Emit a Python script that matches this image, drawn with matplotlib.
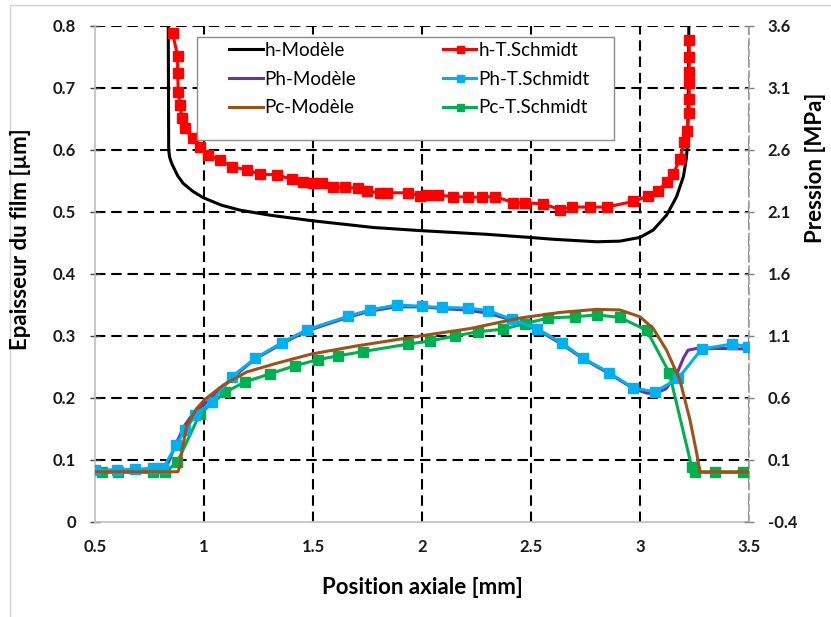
import matplotlib
matplotlib.use("Agg")
import matplotlib.pyplot as plt
from matplotlib.lines import Line2D
from matplotlib.patches import Rectangle
from matplotlib.ticker import FixedLocator, FuncFormatter
import numpy as np

plt.rcParams['font.family'] = ['Lato', 'DejaVu Sans']

# ---------------- data ----------------
# film thickness (left axis, µm)
x_h_model = [0.836, 0.837, 0.838, 0.842, 0.850, 0.859, 0.880, 0.905, 0.950, 0.997, 1.080, 1.165,
             1.300, 1.494, 1.777, 1.991, 2.297, 2.495, 2.602, 2.801, 2.908, 3.000, 3.061, 3.122,
             3.153, 3.168, 3.199, 3.212, 3.218, 3.222, 3.224]
y_h_model = [0.800, 0.700, 0.600, 0.589, 0.580, 0.573, 0.558, 0.546, 0.533, 0.523, 0.511, 0.503,
             0.495, 0.486, 0.475, 0.470, 0.464, 0.459, 0.456, 0.452, 0.453, 0.459, 0.471, 0.495,
             0.515, 0.525, 0.557, 0.585, 0.610, 0.700, 0.800]

x_h_schmidt = [0.856, 0.879, 0.879, 0.882, 0.890, 0.898, 0.913, 0.951, 0.982, 1.020, 1.073, 1.127,
               1.196, 1.257, 1.333, 1.402, 1.456, 1.501, 1.540, 1.593, 1.647, 1.708, 1.746, 1.807,
               1.838, 1.937, 1.991, 2.021, 2.075, 2.144, 2.212, 2.274, 2.335, 2.419, 2.472, 2.556,
               2.633, 2.687, 2.771, 2.847, 2.969, 3.038, 3.084, 3.122, 3.153, 3.183, 3.202, 3.214,
               3.225, 3.226, 3.226, 3.226, 3.226, 3.226]
y_h_schmidt = [0.788, 0.752, 0.724, 0.694, 0.673, 0.651, 0.635, 0.619, 0.605, 0.592, 0.584, 0.573,
               0.568, 0.561, 0.560, 0.553, 0.549, 0.547, 0.546, 0.541, 0.540, 0.538, 0.534, 0.531,
               0.531, 0.531, 0.526, 0.527, 0.527, 0.525, 0.524, 0.524, 0.525, 0.515, 0.515, 0.513,
               0.504, 0.508, 0.508, 0.508, 0.517, 0.526, 0.534, 0.549, 0.562, 0.585, 0.613, 0.630,
               0.659, 0.683, 0.708, 0.726, 0.750, 0.777]

# pressures (right axis, MPa)
x_ph_model = [0.50, 0.80, 0.83, 0.87, 0.91, 0.95, 1.00, 1.05, 1.13, 1.23, 1.36, 1.47, 1.66, 1.76,
              1.88, 2.00, 2.10, 2.20, 2.30, 2.41, 2.53, 2.64, 2.74, 2.86, 2.97, 3.03, 3.07, 3.12,
              3.17, 3.20, 3.22, 3.26, 3.35, 3.50]
p_ph_model = [0.015, 0.015, 0.05, 0.225, 0.375, 0.475, 0.55, 0.625, 0.76, 0.91, 1.04, 1.14, 1.25,
              1.30, 1.335, 1.335, 1.32, 1.31, 1.285, 1.23, 1.15, 1.035, 0.915, 0.795, 0.675, 0.64,
              0.635, 0.675, 0.80, 0.925, 0.985, 1.00, 1.00, 0.995]

x_ph_schmidt = [0.500, 0.600, 0.683, 0.767, 0.813, 0.872, 0.913, 0.960, 1.035, 1.127, 1.234, 1.356,
                1.471, 1.662, 1.761, 1.884, 1.998, 2.090, 2.212, 2.304, 2.411, 2.526, 2.641, 2.740,
                2.859, 2.969, 3.069, 3.176, 3.283, 3.421, 3.497]
p_ph_schmidt = [0.02, 0.02, 0.025, 0.033, 0.033, 0.22, 0.34, 0.46, 0.57, 0.77, 0.92, 1.045, 1.15,
                1.26, 1.31, 1.35, 1.34, 1.33, 1.325, 1.305, 1.235, 1.16, 1.045, 0.92, 0.805, 0.68,
                0.65, 0.76, 0.995, 1.035, 1.015]

x_pc_model = [0.50, 0.88, 0.89, 0.897, 0.92, 0.966, 1.005, 1.089, 1.196, 1.333, 1.494, 1.70, 1.991,
              2.22, 2.45, 2.633, 2.80, 2.908, 3.00, 3.061, 3.122, 3.183, 3.229, 3.26, 3.275, 3.50]
p_pc_model = [0.005, 0.005, 0.05, 0.155, 0.37, 0.515, 0.59, 0.705, 0.81, 0.88, 0.955, 1.02, 1.10,
              1.16, 1.245, 1.29, 1.315, 1.31, 1.255, 1.16, 0.985, 0.745, 0.425, 0.155, 0.005, 0.005]

x_pc_schmidt = [0.531, 0.607, 0.767, 0.821, 0.878, 0.982, 1.096, 1.188, 1.303, 1.417, 1.524, 1.616,
                1.731, 1.937, 2.037, 2.151, 2.258, 2.373, 2.472, 2.579, 2.702, 2.801, 2.908, 3.031,
                3.134, 3.237, 3.252, 3.344, 3.474]
p_pc_schmidt = [0.0, 0.0, 0.0, 0.0, 0.085, 0.475, 0.645, 0.73, 0.795, 0.86, 0.91, 0.94, 0.975,
                1.035, 1.06, 1.10, 1.135, 1.155, 1.20, 1.245, 1.255, 1.27, 1.25, 1.145, 0.805,
                0.045, 0.0, 0.0, 0.0]

x_ticks = [0.5, 1, 1.5, 2, 2.5, 3, 3.5]
y_left_ticks = [0, 0.1, 0.2, 0.3, 0.4, 0.5, 0.6, 0.7, 0.8]
y_right_ticks = [-0.4, 0.1, 0.6, 1.1, 1.6, 2.1, 2.6, 3.1, 3.6]

labels = ["h-Modèle", "Ph-Modèle", "Pc-Modèle", "h-T.Schmidt", "Ph-T.Schmidt", "Pc-T.Schmidt"]

# ---------------- figure ----------------
W, H = 831, 617
fig = plt.figure(figsize=(W / 100, H / 100), dpi=100)
fig.patch.set_facecolor('white')

def fx(px):
    return px / W

def fy(py):
    return 1 - py / H

L, R, T, B = 95, 749, 26, 522
ax = fig.add_axes([fx(L), fy(B), fx(R - L), (B - T) / H])
ax2 = ax.twinx()

C_RED = '#FF0000'
C_BLUE = '#00B0F0'
C_PURPLE = '#7030A0'
C_BROWN = '#9C5318'
C_GREEN = '#00B050'
LW = 2.2
MS = 7.2

l_hm, = ax.plot(x_h_model, y_h_model, color='black', lw=LW, zorder=3)
l_hs, = ax.plot(x_h_schmidt, y_h_schmidt, color=C_RED, lw=LW, marker='s', ms=MS, zorder=4)

l_phm, = ax2.plot(x_ph_model, p_ph_model, color=C_PURPLE, lw=LW, zorder=3)
l_phs, = ax2.plot(x_ph_schmidt, p_ph_schmidt, color=C_BLUE, lw=LW, marker='s', ms=MS, zorder=4)
l_pcm, = ax2.plot(x_pc_model, p_pc_model, color=C_BROWN, lw=LW, zorder=4)
l_pcs, = ax2.plot(x_pc_schmidt, p_pc_schmidt, color=C_GREEN, lw=LW, marker='s', ms=MS, zorder=3)

ax.set_xlim(0.5, 3.5)
ax.set_ylim(0, 0.8)
ax2.set_ylim(-0.4, 3.6)

ax.xaxis.set_major_locator(FixedLocator(x_ticks))
ax.yaxis.set_major_locator(FixedLocator(y_left_ticks))
ax2.yaxis.set_major_locator(FixedLocator(y_right_ticks))
ax.xaxis.set_major_formatter(FuncFormatter(lambda v, p: f"{v:g}"))
ax.yaxis.set_major_formatter(FuncFormatter(lambda v, p: f"{v:g}"))
ax2.yaxis.set_major_formatter(FuncFormatter(lambda v, p: f"{v:.1f}"))

# grid
ax.set_axisbelow(True)
ax.grid(True, color='black', lw=1.5, linestyle=(0, (5, 2.8)))
for gl, v in zip(ax.xaxis.get_gridlines(), x_ticks):
    if v == 3.5:
        gl.set_color('#7F7F7F')
    if v == 0.5:
        gl.set_visible(False)
for gl, v in zip(ax.yaxis.get_gridlines(), y_left_ticks):
    if v == 0:
        gl.set_visible(False)

for a in (ax, ax2):
    a.spines['top'].set_visible(False)
ax.spines['right'].set_visible(False)
ax2.spines['left'].set_visible(False)
ax2.spines['bottom'].set_visible(False)
ax2.spines['right'].set_color('#9F9F9F')
ax2.spines['right'].set_linestyle((0, (4, 2.5)))
ax2.spines['right'].set_linewidth(1.2)
ax.spines['left'].set_color('#BFBFBF')
ax.spines['bottom'].set_color('#BFBFBF')
ax.spines['left'].set_linewidth(1.2)
ax.spines['bottom'].set_linewidth(1.2)

tick_font = dict(family=['Lato', 'DejaVu Sans'], weight='bold', size=12)
ax.tick_params(axis='x', length=0, pad=12)
ax.tick_params(axis='y', direction='inout', length=7, width=1, color='#404040', pad=10)
ax2.tick_params(axis='y', direction='inout', length=7, width=1, color='#808080', pad=10)
for lab in ax.get_xticklabels() + ax.get_yticklabels() + ax2.get_yticklabels():
    lab.set_fontproperties(matplotlib.font_manager.FontProperties(**tick_font))
    lab.set_color('#1a1a1a')

# axis titles
fig.text(fx(21), fy(239), 'Epaisseur du film [µm]', rotation=90, ha='center', va='center',
         fontsize=16, fontweight='bold')
fig.text(fx(815), fy(168), 'Pression [MPa]', rotation=90, ha='center', va='center',
         fontsize=16, fontweight='bold')
fig.text(fx(422), fy(587), 'Position axiale [mm]', ha='center', va='center',
         fontsize=16, fontweight='bold')

# legend box
box = Rectangle((fx(197), fy(140)), fx(614 - 197), (140 - 37) / H, transform=fig.transFigure,
                facecolor='white', edgecolor='#8C8C8C', lw=1.0, zorder=6)
ax2.add_artist(box)
handles = [l_hm, l_phm, l_pcm, l_hs, l_phs, l_pcs]
leg = ax2.legend(handles, labels, loc='upper left', bbox_to_anchor=(fx(229), fy(42)),
                 bbox_transform=fig.transFigure, ncol=2, frameon=False, fontsize=13.5,
                 handlelength=1.8, handletextpad=0.1, columnspacing=4.6, labelspacing=0.62,
                 borderpad=0, borderaxespad=0, markerscale=0.7)
leg.set_zorder(7)

# outer frame
fig.add_artist(Line2D([fx(10), fx(10), fx(831)], [fy(617), fy(5), fy(5)], transform=fig.transFigure,
                      color='#D0D0D0', lw=1.0))

fig.savefig('out.png', dpi=100, facecolor='white')
